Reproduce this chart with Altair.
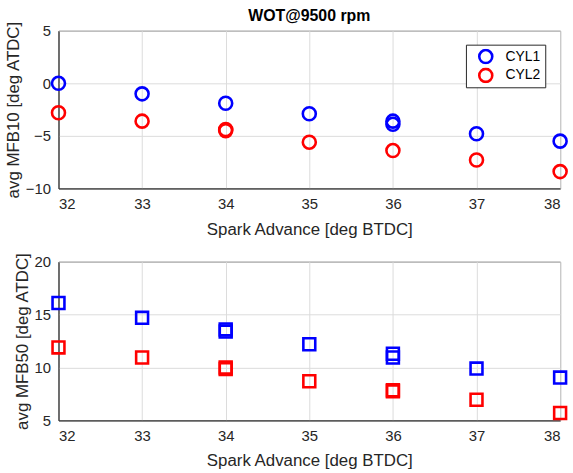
import altair as alt
import pandas as pd

# ---- data ----
sa_top_c1 = [32, 33, 34, 35, 36, 36, 37, 38]
mfb10_c1 = [0.0, -1.0, -1.9, -2.9, -3.6, -3.9, -4.8, -5.5]
sa_top_c2 = [32, 33, 34, 34, 35, 36, 37, 38]
mfb10_c2 = [-2.8, -3.6, -4.4, -4.5, -5.6, -6.4, -7.3, -8.4]

sa_bot_c1 = [32, 33, 34, 34, 35, 36, 36, 37, 38]
mfb50_c1 = [16.1, 14.7, 13.4, 13.6, 12.2, 11.3, 10.95, 9.9, 9.05]
sa_bot_c2 = [32, 33, 34, 34, 35, 36, 36, 37, 38]
mfb50_c2 = [11.9, 10.95, 9.85, 10.0, 8.7, 7.75, 7.85, 6.95, 5.7]

series = ["CYL1", "CYL2"]
colors = ["#0000ff", "#ff0000"]
x_ticks = [32, 33, 34, 35, 36, 37, 38]
y_ticks_top = [-10, -5, 0, 5]
y_ticks_bot = [5, 10, 15, 20]

top_df = pd.DataFrame(
    {"sa": sa_top_c1 + sa_top_c2,
     "val": mfb10_c1 + mfb10_c2,
     "cyl": ["CYL1"] * len(sa_top_c1) + ["CYL2"] * len(sa_top_c2)}
)
bot_df = pd.DataFrame(
    {"sa": sa_bot_c1 + sa_bot_c2,
     "val": mfb50_c1 + mfb50_c2,
     "cyl": ["CYL1"] * len(sa_bot_c1) + ["CYL2"] * len(sa_bot_c2)}
)

FONT = "Liberation Sans"
INK = "#262626"
W, H = 506, 159

def xenc():
    return alt.X(
        "sa:Q",
        scale=alt.Scale(domain=[32, 38], nice=False, zero=False),
        axis=alt.Axis(values=x_ticks, title="Spark Advance [deg BTDC]", format="d"),
    )

def yenc(dom, ticks, title):
    return alt.Y(
        "val:Q",
        scale=alt.Scale(domain=dom, nice=False, zero=False),
        axis=alt.Axis(values=ticks, title=title, format="d"),
    )

top = (
    alt.Chart(top_df, title=alt.Title("WOT@9500 rpm", fontSize=16, fontWeight="bold",
                                      font=FONT, color="black", offset=0, dy=3))
    .mark_point(shape="circle", filled=False, strokeWidth=2.6, size=172, opacity=1)
    .encode(
        x=xenc(),
        y=yenc([-10, 5], y_ticks_top, "avg MFB10 [deg ATDC]"),
        color=alt.Color(
            "cyl:N",
            scale=alt.Scale(domain=series, range=colors),
            legend=alt.Legend(
                title=None, orient="none", legendX=411, legendY=14,
                strokeColor=INK, fillColor="white", padding=4,
                symbolType="circle", symbolSize=172, symbolStrokeWidth=2.6,
                symbolOffset=8,
                labelFont=FONT, labelFontSize=14, labelColor="black",
                clipHeight=16, rowPadding=3, labelOffset=12,
            ),
        ),
    )
    .properties(width=W, height=H)
)

bot = (
    alt.Chart(bot_df)
    .mark_point(shape="square", filled=False, strokeWidth=2.6, size=144, opacity=1)
    .encode(
        x=xenc(),
        y=yenc([5, 20], y_ticks_bot, "avg MFB50 [deg ATDC]"),
        color=alt.Color("cyl:N", scale=alt.Scale(domain=series, range=colors), legend=None),
    )
    .properties(width=W, height=H + 1)
)

chart = (
    alt.vconcat(top, bot, spacing=13)
    .resolve_legend(color="independent")
    .properties(padding={"left": 4, "top": 5, "right": 0, "bottom": 0})
    .configure_view(stroke=INK, strokeWidth=1)
    .configure_axis(
        labelFont=FONT, titleFont=FONT, labelFontSize=15, titleFontSize=17,
        labelColor=INK, titleColor=INK, titleFontWeight="normal",
        domainColor=INK, grid=True, gridColor="#dcdcdc", gridWidth=1,
        ticks=False,
    )
    .configure_axisX(labelPadding=8, titlePadding=10)
    .configure_axisY(labelPadding=8, titlePadding=3)
)

chart.save("out.html", embed_options={"renderer": "svg", "actions": False})
